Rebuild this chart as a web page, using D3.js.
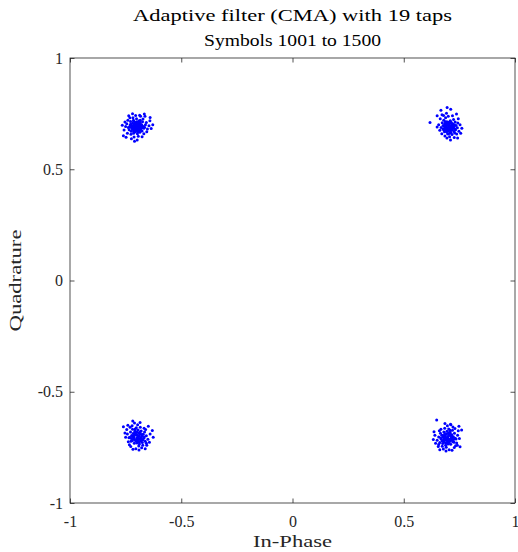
<!DOCTYPE html>
<html>
<head>
<meta charset="utf-8">
<script src="https://cdn.jsdelivr.net/npm/d3@7"></script>
<style>
  body { margin: 0; background: #fff; }
  text { font-family: "Liberation Serif", "Times New Roman", serif; }
</style>
</head>
<body>
<div id="grafica"></div>
<script>
// received symbols, one list per constellation point (In-Phase, Quadrature)
var clusterTL = [[-0.700,0.690],[-0.712,0.702],[-0.688,0.676],[-0.695,0.711],[-0.721,0.683],[-0.679,0.695],[-0.706,0.668],[-0.730,0.699],[-0.668,0.684],[-0.715,0.720],[-0.684,0.705],[-0.703,0.681],[-0.692,0.697],[-0.725,0.671],[-0.674,0.713],[-0.709,0.693],[-0.697,0.659],[-0.738,0.688],[-0.661,0.700],[-0.719,0.707],[-0.686,0.666],[-0.701,0.727],[-0.745,0.705],[-0.676,0.672],[-0.714,0.662],[-0.690,0.718],[-0.728,0.715],[-0.665,0.689],[-0.707,0.684],[-0.681,0.689],[-0.694,0.673],[-0.734,0.677],[-0.657,0.710],[-0.722,0.694],[-0.699,0.703],[-0.711,0.676],[-0.687,0.683],[-0.740,0.720],[-0.672,0.726],[-0.717,0.731],[-0.693,0.648],[-0.750,0.692],[-0.652,0.681],[-0.726,0.657],[-0.683,0.738],[-0.705,0.742],[-0.742,0.662],[-0.668,0.660],[-0.731,0.732],[-0.641,0.718],[-0.757,0.676],[-0.676,0.646],[-0.712,0.645],[-0.736,0.740],[-0.663,0.738],[-0.698,0.632],[-0.753,0.712],[-0.645,0.695],[-0.719,0.750],[-0.687,0.743],[-0.760,0.651],[-0.655,0.668],[-0.724,0.637],[-0.699,0.691],[-0.708,0.711],[-0.678,0.700],[-0.716,0.687],[-0.690,0.687],[-0.703,0.698],[-0.696,0.680],[-0.732,0.690],[-0.670,0.692],[-0.727,0.702],[-0.684,0.720],[-0.713,0.668],[-0.765,0.698],[-0.640,0.733],[-0.748,0.644],[-0.666,0.748],[-0.710,0.626],[-0.628,0.700],[-0.635,0.683],
  [-0.704,0.686],[-0.697,0.694],[-0.709,0.699],[-0.691,0.682],[-0.716,0.694],[-0.685,0.698],[-0.701,0.675],[-0.706,0.705],[-0.693,0.706],[-0.718,0.679],[-0.682,0.678],[-0.711,0.688],[-0.689,0.692],[-0.700,0.714],[-0.723,0.688],[-0.677,0.686],[-0.695,0.668],[-0.713,0.716],[-0.686,0.711],[-0.704,0.694]];

var clusterTR = [[0.703,0.690],[0.715,0.678],[0.691,0.702],[0.708,0.707],[0.722,0.693],[0.686,0.683],[0.699,0.671],[0.730,0.681],[0.677,0.697],[0.712,0.665],[0.694,0.714],[0.720,0.705],[0.705,0.680],[0.683,0.668],[0.735,0.697],[0.700,0.700],[0.668,0.688],[0.726,0.670],[0.709,0.718],[0.690,0.676],[0.741,0.686],[0.717,0.656],[0.673,0.709],[0.697,0.660],[0.731,0.712],[0.680,0.720],[0.748,0.671],[0.706,0.646],[0.662,0.675],[0.724,0.724],[0.688,0.731],[0.714,0.692],[0.696,0.687],[0.738,0.658],[0.671,0.660],[0.753,0.700],[0.700,0.738],[0.727,0.643],[0.657,0.700],[0.719,0.740],[0.685,0.649],[0.745,0.727],[0.664,0.727],[0.710,0.632],[0.756,0.662],[0.692,0.752],[0.737,0.748],[0.650,0.690],[0.679,0.742],[0.725,0.686],[0.702,0.674],[0.688,0.695],[0.716,0.701],[0.733,0.677],[0.676,0.681],[0.709,0.663],[0.761,0.684],[0.694,0.640],[0.618,0.710],[0.695,0.778],[0.667,0.765],[0.742,0.640],[0.711,0.770],[0.650,0.741],[0.705,0.695],[0.720,0.684],[0.698,0.708],[0.684,0.704],[0.729,0.663],[0.743,0.708],[0.672,0.745],
  [0.699,0.684],[0.707,0.693],[0.694,0.697],[0.712,0.686],[0.689,0.689],[0.718,0.697],[0.703,0.703],[0.710,0.674],[0.697,0.679],[0.682,0.692],[0.725,0.692],[0.701,0.711],[0.713,0.711],[0.692,0.669],[0.719,0.676],[0.687,0.714],[0.706,0.685],[0.728,0.700],[0.680,0.676],[0.701,0.658]];

var clusterBL = [[-0.694,-0.703],[-0.706,-0.690],[-0.682,-0.716],[-0.700,-0.681],[-0.715,-0.712],[-0.676,-0.694],[-0.690,-0.726],[-0.723,-0.697],[-0.669,-0.709],[-0.708,-0.672],[-0.687,-0.689],[-0.697,-0.717],[-0.728,-0.681],[-0.662,-0.723],[-0.711,-0.731],[-0.680,-0.676],[-0.735,-0.707],[-0.673,-0.740],[-0.702,-0.662],[-0.657,-0.698],[-0.719,-0.668],[-0.691,-0.744],[-0.742,-0.690],[-0.665,-0.681],[-0.726,-0.722],[-0.684,-0.659],[-0.650,-0.713],[-0.733,-0.738],[-0.698,-0.696],[-0.713,-0.704],[-0.688,-0.710],[-0.678,-0.700],[-0.721,-0.653],[-0.745,-0.670],[-0.655,-0.741],[-0.704,-0.756],[-0.667,-0.664],[-0.738,-0.725],[-0.640,-0.690],[-0.696,-0.648],[-0.760,-0.657],[-0.718,-0.631],[-0.710,-0.641],[-0.678,-0.752],[-0.630,-0.674],[-0.750,-0.705],[-0.662,-0.756],[-0.643,-0.727],[-0.727,-0.746],[-0.685,-0.638],[-0.700,-0.710],[-0.692,-0.685],[-0.716,-0.688],[-0.675,-0.728],[-0.705,-0.720],[-0.730,-0.660],[-0.660,-0.670],[-0.648,-0.655],[-0.690,-0.762],[-0.753,-0.685],[-0.626,-0.705],[-0.717,-0.758],[-0.671,-0.691],[-0.699,-0.730],[-0.709,-0.680],[-0.683,-0.722],[-0.740,-0.650],[-0.657,-0.732],[-0.694,-0.672],[-0.724,-0.710],
  [-0.698,-0.708],[-0.690,-0.698],[-0.703,-0.694],[-0.686,-0.714],[-0.710,-0.715],[-0.680,-0.707],[-0.695,-0.722],[-0.712,-0.696],[-0.685,-0.681],[-0.700,-0.726],[-0.717,-0.701],[-0.673,-0.716],[-0.705,-0.684],[-0.693,-0.711],[-0.720,-0.720],[-0.678,-0.692],[-0.688,-0.735],[-0.707,-0.667],[-0.731,-0.705],[-0.666,-0.703]];

var clusterBR = [[0.694,-0.708],[0.706,-0.695],[0.682,-0.720],[0.700,-0.686],[0.715,-0.717],[0.676,-0.699],[0.690,-0.731],[0.723,-0.702],[0.669,-0.714],[0.708,-0.677],[0.687,-0.694],[0.697,-0.722],[0.728,-0.686],[0.662,-0.728],[0.711,-0.736],[0.680,-0.681],[0.735,-0.712],[0.673,-0.745],[0.702,-0.667],[0.657,-0.703],[0.719,-0.673],[0.691,-0.749],[0.742,-0.695],[0.665,-0.686],[0.726,-0.727],[0.684,-0.664],[0.650,-0.718],[0.733,-0.743],[0.698,-0.701],[0.713,-0.709],[0.688,-0.715],[0.678,-0.705],[0.721,-0.658],[0.745,-0.675],[0.655,-0.746],[0.704,-0.761],[0.667,-0.669],[0.738,-0.730],[0.640,-0.695],[0.696,-0.653],[0.648,-0.627],[0.760,-0.672],[0.753,-0.747],[0.710,-0.646],[0.678,-0.757],[0.636,-0.680],[0.750,-0.710],[0.662,-0.761],[0.643,-0.732],[0.727,-0.751],[0.685,-0.643],[0.700,-0.715],[0.692,-0.690],[0.716,-0.693],[0.675,-0.733],[0.705,-0.725],[0.730,-0.665],[0.660,-0.675],[0.748,-0.655],[0.690,-0.766],[0.633,-0.715],[0.717,-0.763],[0.671,-0.696],[0.699,-0.735],[0.709,-0.685],[0.683,-0.727],[0.741,-0.740],[0.657,-0.737],[0.694,-0.677],[0.724,-0.715],[0.712,-0.648],
  [0.690,-0.712],[0.698,-0.703],[0.703,-0.713],[0.686,-0.703],[0.709,-0.720],[0.681,-0.712],[0.695,-0.728],[0.712,-0.700],[0.685,-0.688],[0.701,-0.731],[0.718,-0.706],[0.673,-0.721],[0.704,-0.690],[0.693,-0.716],[0.720,-0.725],[0.678,-0.697],[0.688,-0.740],[0.707,-0.672],[0.731,-0.709],[0.666,-0.708]];

var xTicks = [-1, -0.5, 0, 0.5, 1];
var yTicks = [-1, -0.5, 0, 0.5, 1];
var titleLines = ["Adaptive filter (CMA) with 19 taps", "Symbols 1001 to 1500"];
var xLabel = "In-Phase";
var yLabel = "Quadrature";

// set the dimensions and margins of the graph
var margin = {top: 58, right: 3, bottom: 49, left: 70},
    width = 518 - margin.left - margin.right,
    height = 552 - margin.top - margin.bottom;

var axisColor = "#262626";

var svg = d3.select("#grafica")
  .append("svg")
  .attr("width", width + margin.left + margin.right)
  .attr("height", height + margin.top + margin.bottom)
  .append("g")
  .attr("transform", `translate(${margin.left},${margin.top})`);

const x = d3.scaleLinear().domain([-1, 1]).range([0, width]);
const y = d3.scaleLinear().domain([-1, 1]).range([height, 0]);

var fmt = function(d) { return String(d).replace("\u2212", "-"); };

// ticks point inwards; top and right axes carry no labels
function styleAxis(g) {
  g.select(".domain").remove();
  g.selectAll(".tick line").attr("stroke", axisColor).attr("stroke-width", 0.8);
  g.selectAll(".tick text")
    .attr("fill", axisColor)
    .style("font-size", "16px")
    .style("font-family", "'Liberation Serif', serif");
}

svg.append("g")
  .attr("transform", `translate(0, ${height})`)
  .call(d3.axisBottom(x).tickValues(xTicks).tickSize(-4.5).tickPadding(13).tickFormat(fmt))
  .call(styleAxis);

svg.append("g")
  .call(d3.axisTop(x).tickValues(xTicks).tickSize(-4.5).tickFormat(""))
  .call(styleAxis);

svg.append("g")
  .call(d3.axisLeft(y).tickValues(yTicks).tickSize(-4.5).tickPadding(7).tickFormat(fmt))
  .call(styleAxis);

svg.append("g")
  .attr("transform", `translate(${width}, 0)`)
  .call(d3.axisRight(y).tickValues(yTicks).tickSize(-4.5).tickFormat(""))
  .call(styleAxis);

// box
svg.append("rect")
  .attr("x", 0).attr("y", 0)
  .attr("width", width).attr("height", height)
  .attr("fill", "none")
  .attr("stroke", axisColor)
  .attr("stroke-width", 0.8);

// the points
var allPoints = clusterTL.concat(clusterTR, clusterBL, clusterBR);
svg.append("g")
  .selectAll("circle")
  .data(allPoints)
  .join("circle")
    .attr("cx", function(d) { return x(d[0]); })
    .attr("cy", function(d) { return y(d[1]); })
    .attr("r", 1.5)
    .attr("fill", "#0000ff");

// title (stretched a bit, the original font is wider)
var titleWidths = [319, 177];
svg.append("g")
  .selectAll("text")
  .data(titleLines)
  .join("text")
    .attr("x", width / 2)
    .attr("y", function(d, i) { return -37 + i * 25; })
    .attr("textLength", function(d, i) { return titleWidths[i]; })
    .attr("lengthAdjust", "spacingAndGlyphs")
    .style("text-anchor", "middle")
    .style("font-size", "17px")
    .attr("fill", "#000")
    .text(function(d) { return d; });

// axis labels
svg.append("text")
  .attr("x", width / 2)
  .attr("y", height + 44)
  .attr("textLength", 79)
  .attr("lengthAdjust", "spacingAndGlyphs")
  .style("text-anchor", "middle")
  .style("font-size", "17px")
  .attr("fill", axisColor)
  .text(xLabel);

svg.append("text")
  .attr("transform", "rotate(-90)")
  .attr("x", -height / 2)
  .attr("y", -49)
  .attr("textLength", 102)
  .attr("lengthAdjust", "spacingAndGlyphs")
  .style("text-anchor", "middle")
  .style("font-size", "17px")
  .attr("fill", axisColor)
  .text(yLabel);
</script>
</body>
</html>
